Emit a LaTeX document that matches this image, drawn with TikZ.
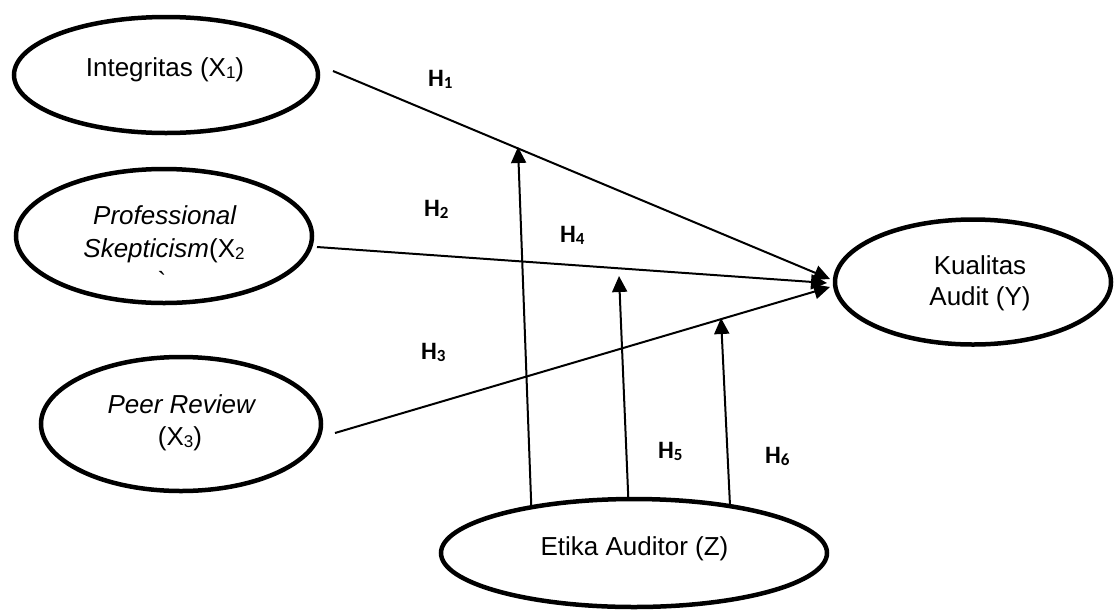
\documentclass[tikz,border=0pt]{standalone}
\usepackage{fontspec}
\setmainfont{Liberation Sans}
\newfontfamily\hfont{Carlito}
\newfontfamily\plainfont{Liberation Sans}[Ligatures=TeXOff]
\usetikzlibrary{shapes.geometric,arrows.meta}
\newcommand\sbx[1]{\raisebox{-2pt}{\fontsize{17}{17}\selectfont #1}}
\newcommand\hsb[1]{\raisebox{-2.5pt}{\fontsize{17}{17}\selectfont #1}}
\begin{document}
\begin{tikzpicture}[x=1pt,y=-1pt,
  ell/.style={ellipse, draw, line width=4.5pt, inner sep=0pt, outer sep=0pt},
  txt/.style={font=\fontsize{26}{32}\selectfont, inner sep=0pt, anchor=base},
  hyp/.style={font=\hfont\bfseries\fontsize{25}{25}\selectfont, inner sep=0pt, anchor=base west},
  arr/.style={line width=2pt, -{Triangle[length=16pt,width=15pt]}}]
\fill[white] (0,0) rectangle (1116,611);
\useasboundingbox (0,0) rectangle (1116,611);
% ellipses
\node[ell, minimum width=304pt, minimum height=116pt] (int) at (166,75) {};
\node[ell, minimum width=296pt, minimum height=134pt] (pro) at (164,236) {};
\node[ell, minimum width=280pt, minimum height=134pt] (peer) at (181,424) {};
\node[ell, minimum width=276pt, minimum height=125pt] (kua) at (973,282) {};
\node[ell, minimum width=386pt, minimum height=108pt] (eti) at (634,553) {};
% texts
\node[txt] (intT) at (165,76) {Integritas (X\sbx{1})};
\node[txt] (proT1) at (165,224) {\textit{Professional}};
\node[txt] (proT2) at (164,257) {\textit{Skepticism}(X\sbx{2}};
\node[txt] (proT3) at (162,290) {\plainfont\symbol{96}};
\node[txt] (peerT1) at (182,413) {\textit{Peer Review}};
\node[txt] (peerT2) at (180,445) {(X\sbx{3})};
\node[txt] (kuaT1) at (980,274) {Kualitas};
\node[txt] (kuaT2) at (980,305) {Audit (Y)};
\node[txt] (etiT) at (634.5,555) {Etika Auditor (Z)};
% hypothesis labels
\node[hyp] (h1) at (428,86) {H\hsb{1}};
\node[hyp] (h2) at (424,216) {H\hsb{2}};
\node[hyp] (h3) at (421,359) {H\hsb{3}};
\node[hyp] (h4) at (560,242) {H\hsb{4}};
\node[hyp] (h5) at (658,458) {H\hsb{5}};
\node[hyp] (h6) at (765,463) {H\hsb{6}};
% main connectors
\draw[arr] ([shift={(15,-4)}]int.east) -- ([shift={(-5,-3)}]kua.west);
\draw[arr] ([shift={(5,11)}]pro.east) -- ([shift={(-8,1)}]kua.west);
\draw[arr] ([shift={(14,9)}]peer.east) -- ([shift={(-5,5)}]kua.west);
% moderating connectors
\coordinate (t1) at (518,147);
\coordinate (t2) at (619,276);
\coordinate (t3) at (721,318);
\draw[arr] (eti.156.4) -- (t1);
\draw[arr] (eti.96.3) -- (t2);
\draw[arr] (eti.26) -- (t3);
\end{tikzpicture}
\end{document}
